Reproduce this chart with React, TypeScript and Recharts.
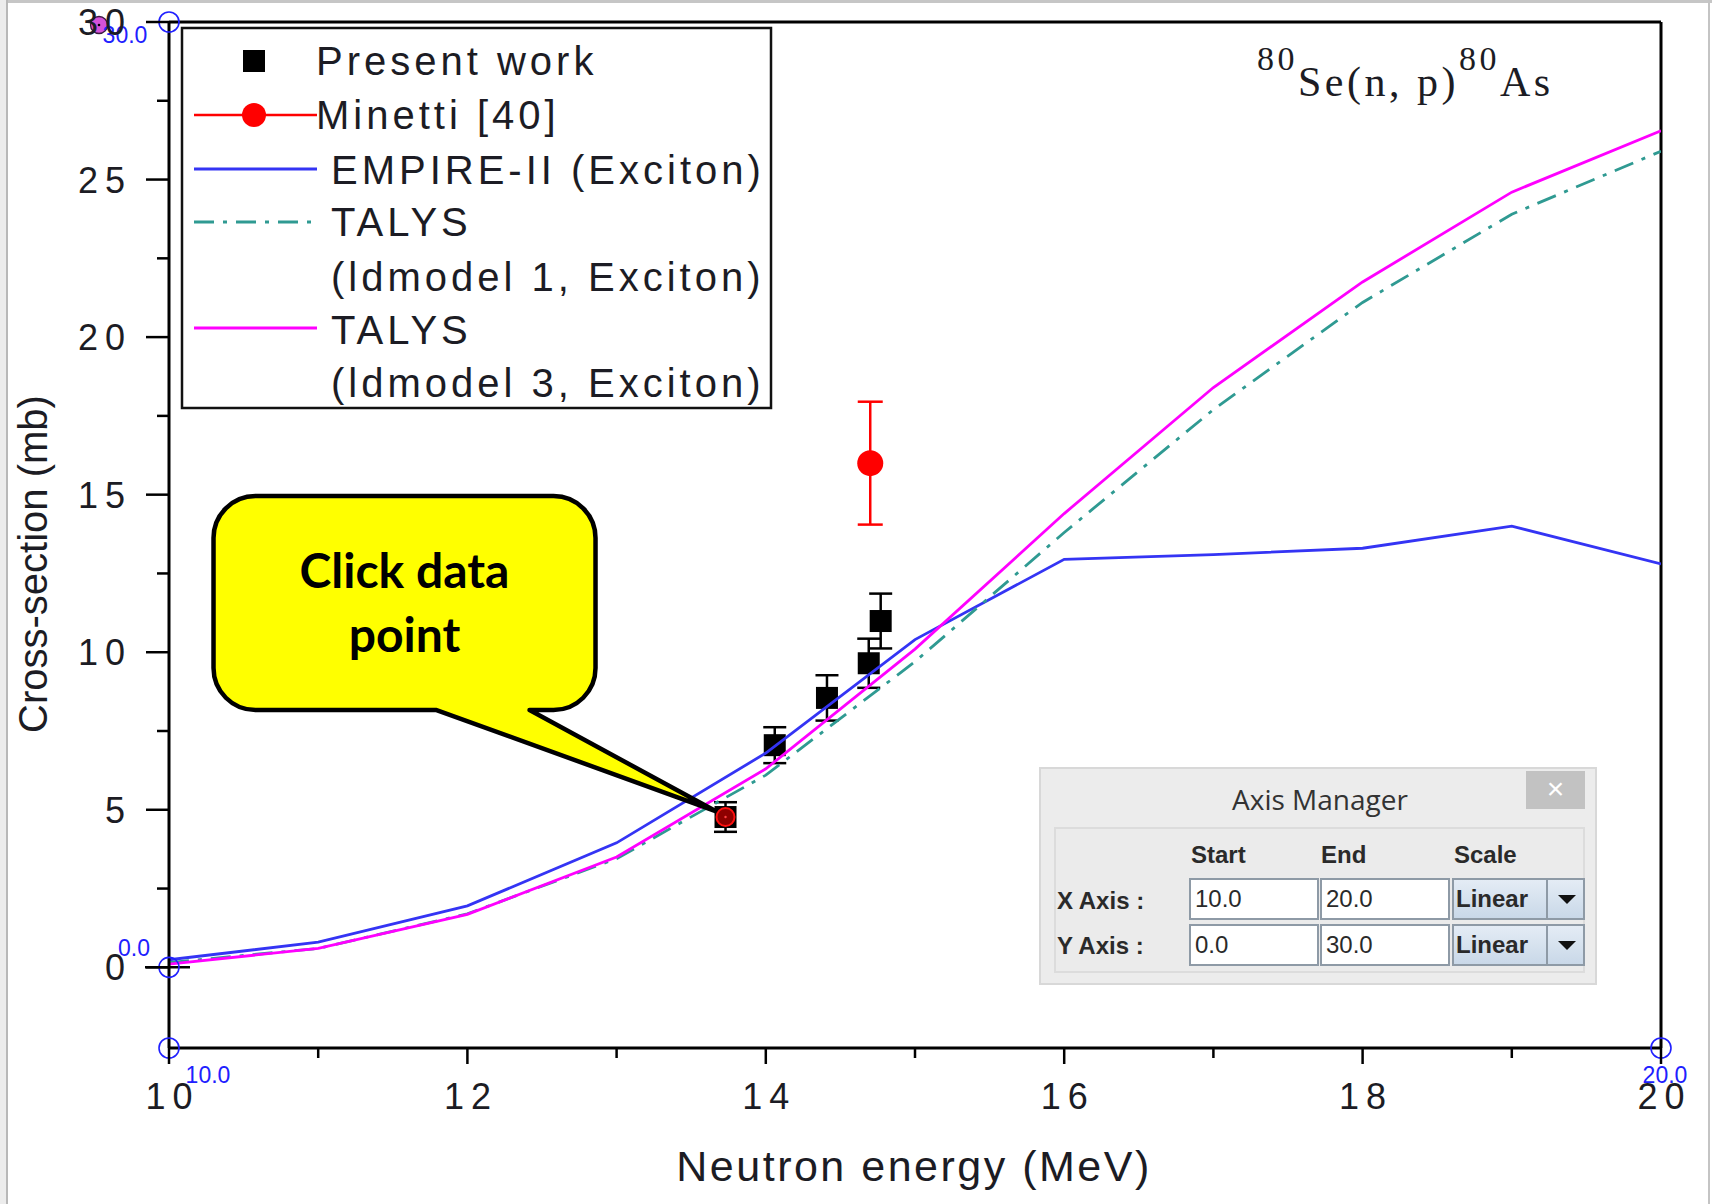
import React from "react";
import {
  ComposedChart,
  Line,
  Scatter,
  XAxis,
  YAxis,
  ErrorBar,
  ReferenceLine,
  ReferenceDot,
} from "recharts";

// model curves, sampled at integer neutron energies (MeV)
const energies = [10, 11, 12, 13, 14, 15, 16, 17, 18, 19, 20];
const empireII = [0.24, 0.8, 1.95, 3.95, 6.8, 10.4, 12.95, 13.1, 13.3, 14.0, 12.8];
const talysLd1 = [0.15, 0.6, 1.7, 3.45, 6.1, 9.7, 13.8, 17.7, 21.1, 23.9, 25.9];
const talysLd3 = [0.1, 0.6, 1.68, 3.5, 6.3, 10.1, 14.4, 18.4, 21.75, 24.6, 26.55];

// measurements
const presentEnergy = [13.73, 14.06, 14.41, 14.69, 14.77];
const presentSigma = [4.77, 7.05, 8.55, 9.65, 10.99];
const presentError = [0.47, 0.57, 0.72, 0.78, 0.87];

const minettiEnergy = [14.7];
const minettiSigma = [16.0];
const minettiError = [1.95];

// axes
const xTicks = [10, 11, 12, 13, 14, 15, 16, 17, 18, 19, 20];
const xLabelled = [10, 12, 14, 16, 18, 20];
const yTicks = [0, 2.5, 5, 7.5, 10, 12.5, 15, 17.5, 20, 22.5, 25, 27.5, 30];
const yLabelled = [0, 5, 10, 15, 20, 25, 30];
const xDomain = [10, 20];
const yDomain = [-2.56, 30];

// digitizer calibration markers (x, y, label)
const calX = [10, 10, 10, 20];
const calY = [30, 0, -2.56, -2.56];
const calLabels = ["30.0", "0.0", "10.0", "20.0"];

const toPoints = (xs: number[], ys: number[], errs?: number[]) =>
  xs.map((x, i) => ({ x, y: ys[i], err: errs ? errs[i] : 0 }));

const empireData = toPoints(energies, empireII);
const talys1Data = toPoints(energies, talysLd1);
const talys3Data = toPoints(energies, talysLd3);
const presentData = toPoints(presentEnergy, presentSigma, presentError);
const minettiData = toPoints(minettiEnergy, minettiSigma, minettiError);

const SANS = '"Liberation Sans", Arial, sans-serif';
const INK = "#1c1c24";
const BLUE = "#3434f4";
const TEAL = "#2f9a92";
const MAGENTA = "#ff00ff";
const RED = "#ff0000";
const CAL_BLUE = "#2020ff";

const YTick = (props: any) => {
  const { x, y, payload } = props;
  const major = yLabelled.includes(payload.value);
  return (
    <g>
      <line x1={x - (major ? 23 : 12)} x2={x} y1={y} y2={y} stroke="#000" strokeWidth={2.5} />
      {major && (
        <text
          x={x - 37}
          y={y}
          dy={13}
          textAnchor="end"
          fontFamily={SANS}
          fontSize={36}
          fill={INK}
          style={{ letterSpacing: 7 }}
        >
          {payload.value}
        </text>
      )}
    </g>
  );
};

const XTick = (props: any) => {
  const { x, y, payload } = props;
  const major = xLabelled.includes(payload.value);
  return (
    <g>
      <line x1={x} x2={x} y1={y} y2={y + (major ? 16 : 10)} stroke="#000" strokeWidth={2.5} />
      {major && (
        <text
          x={x + 3.5}
          y={y + 61}
          textAnchor="middle"
          fontFamily={SANS}
          fontSize={36}
          fill={INK}
          style={{ letterSpacing: 7 }}
        >
          {payload.value}
        </text>
      )}
    </g>
  );
};

const Square = (props: any) => {
  const { cx, cy } = props;
  return <rect x={cx - 11} y={cy - 11} width={22} height={22} fill="#000" />;
};

const RedDot = (props: any) => {
  const { cx, cy } = props;
  return <circle cx={cx} cy={cy} r={13} fill={RED} />;
};

// offsets of each calibration label from its marker
const calOffsets = [
  { lx: -44, ly: 13 },
  { lx: -35, ly: -19 },
  { lx: 39, ly: 27 },
  { lx: 4, ly: 27 },
];

const CalMark = (props: any) => {
  const { cx, cy, index } = props;
  const off = calOffsets[index];
  return (
    <g>
      {index === 1 && <line x1={cx - 24} x2={cx + 21} y1={cy} y2={cy} stroke="#000" strokeWidth={2.5} />}
      <circle cx={cx} cy={cy} r={10} fill="none" stroke={CAL_BLUE} strokeWidth={1.6} />
      {index === 0 && (
        <g>
          <circle cx={cx - 70} cy={cy + 3} r={8.5} fill="#d552d8" stroke="#3b1840" strokeWidth={1.3} />
          <circle cx={cx - 70} cy={cy + 3} r={1.3} fill="#000" />
        </g>
      )}
      <text
        x={cx + off.lx}
        y={cy + off.ly}
        dy={8}
        textAnchor="middle"
        fontFamily={SANS}
        fontSize={23}
        fill={CAL_BLUE}
      >
        {calLabels[index]}
      </text>
    </g>
  );
};

const Callout = (props: any) => {
  const { cx, cy } = props;
  const L = cx - 512, R = cx - 130, T = cy - 321, B = cy - 107, r = 42;
  const b1 = cx - 289, b2 = cx - 196, tx = cx - 10, ty = cy - 6;
  const d =
    `M${L + r},${T} H${R - r} A${r},${r} 0 0 1 ${R},${T + r} V${B - r} ` +
    `A${r},${r} 0 0 1 ${R - r},${B} H${b2} L${tx},${ty} L${b1},${B} H${L + r} ` +
    `A${r},${r} 0 0 1 ${L},${B - r} V${T + r} A${r},${r} 0 0 1 ${L + r},${T} Z`;
  const mid = (L + R) / 2;
  const f = { fontFamily: 'Lato, "Open Sans", sans-serif', fontWeight: 700, fontSize: 48, fill: "#000" };
  return (
    <g>
      <path d={d} fill="#ffff00" stroke="#000" strokeWidth={4.5} strokeLinejoin="round" />
      <text x={mid} y={cy - 229} textAnchor="middle" {...f}>Click data</text>
      <text x={mid} y={cy - 165} textAnchor="middle" {...f}>point</text>
    </g>
  );
};

const PickedMark = (props: any) => {
  const { cx, cy } = props;
  return (
    <g>
      <circle cx={cx} cy={cy} r={9} fill="#8e0000" stroke="#ff1010" strokeWidth={2} />
      <circle cx={cx} cy={cy} r={1.2} fill="#ff4040" />
    </g>
  );
};

const legendText = { fontFamily: SANS, fontSize: 40, fill: INK, style: { letterSpacing: 4 } };

const Overlay = () => (
  <svg
    width={1712}
    height={1204}
    style={{ position: "absolute", left: 0, top: 0, pointerEvents: "none" }}
  >
    {/* legend */}
    <g transform="translate(182,28)">
      <rect x={0} y={0} width={589} height={380} fill="#fff" stroke="#111" strokeWidth={2.5} />
      <rect x={61} y={22} width={22} height={22} fill="#000" />
      <text x={134} y={33} dy={14} {...legendText}>Present work</text>
      <line x1={12} x2={135} y1={87} y2={87} stroke={RED} strokeWidth={2.5} />
      <circle cx={72} cy={87} r={12} fill={RED} />
      <text x={134} y={87} dy={14} {...legendText}>Minetti [40]</text>
      <line x1={12} x2={135} y1={141} y2={141} stroke={BLUE} strokeWidth={2.8} />
      <text x={149} y={142} dy={14} {...legendText}>EMPIRE-II (Exciton)</text>
      <line x1={12} x2={135} y1={194} y2={194} stroke={TEAL} strokeWidth={2.8} strokeDasharray="20 9 4 9" />
      <text x={149} y={194} dy={14} {...legendText}>TALYS</text>
      <text x={149} y={249} dy={14} {...legendText}>(ldmodel 1, Exciton)</text>
      <line x1={12} x2={135} y1={300} y2={300} stroke={MAGENTA} strokeWidth={2.8} />
      <text x={149} y={302} dy={14} {...legendText}>TALYS</text>
      <text x={149} y={355} dy={14} {...legendText}>(ldmodel 3, Exciton)</text>
    </g>

    {/* reaction label */}
    <text x={1257} y={96} fontFamily='"Liberation Serif", "Times New Roman", serif' fill={INK} style={{ letterSpacing: 3.5 }}>
      <tspan fontSize={34} dy={-26}>80</tspan>
      <tspan fontSize={42} dy={26}>Se(n, p)</tspan>
      <tspan fontSize={34} dy={-26}>80</tspan>
      <tspan fontSize={42} dy={26}>As</tspan>
    </text>

    {/* axis titles */}
    <text x={914} y={1181} textAnchor="middle" fontFamily={SANS} fontSize={43} fill={INK} style={{ letterSpacing: 2.5 }}>
      Neutron energy (MeV)
    </text>
    <text
      x={47}
      y={564}
      transform="rotate(-90 47 564)"
      textAnchor="middle"
      fontFamily={SANS}
      fontSize={40}
      fill={INK}
      style={{ letterSpacing: 0 }}
    >
      Cross-section (mb)
    </text>
  </svg>
);

const dlgLabel: React.CSSProperties = {
  position: "absolute",
  fontFamily: SANS,
  fontWeight: 700,
  fontSize: 24,
  color: "#2a2a2a",
  lineHeight: "28px",
};

const boxStyle = (left: number, top: number, width: number): React.CSSProperties => ({
  position: "absolute",
  left,
  top,
  width,
  height: 42,
  boxSizing: "border-box",
  background: "#fff",
  border: "2px solid #8e9aa6",
  fontFamily: SANS,
  fontSize: 24,
  color: "#2a2a2a",
  lineHeight: "38px",
  paddingLeft: 4,
});

const comboStyle = (left: number, top: number): React.CSSProperties => ({
  position: "absolute",
  left,
  top,
  width: 133,
  height: 42,
  boxSizing: "border-box",
  border: "2px solid #8e9aa6",
  background: "linear-gradient(#e4ecf5, #c9d8e8)",
});

const Combo = ({ left, top }: { left: number; top: number }) => (
  <div style={comboStyle(left, top)}>
    <span style={{ ...dlgLabel, left: 2, top: 5 }}>Linear</span>
    <div style={{ position: "absolute", left: 92, top: 0, width: 2, height: 38, background: "#8e9aa6" }} />
    <div
      style={{
        position: "absolute",
        left: 104,
        top: 15,
        width: 0,
        height: 0,
        borderLeft: "9px solid transparent",
        borderRight: "9px solid transparent",
        borderTop: "9px solid #111",
      }}
    />
  </div>
);

// dialog of the digitizer, drawn over the plot
const AxisManager = () => (
  <div
    style={{
      position: "absolute",
      left: 1039,
      top: 767,
      width: 558,
      height: 218,
      boxSizing: "border-box",
      background: "#ececec",
      border: "2px solid #d8d8d8",
    }}
  >
    <div
      style={{
        position: "absolute",
        left: 0,
        top: 12,
        width: 558,
        textAlign: "center",
        fontFamily: '"Open Sans", "Noto Sans", sans-serif',
        fontSize: 28,
        color: "#333",
        lineHeight: "36px",
      }}
    >
      Axis Manager
    </div>
    <div
      style={{
        position: "absolute",
        left: 485,
        top: 2,
        width: 59,
        height: 38,
        background: "#c2c2c2",
        color: "#fff",
        fontFamily: SANS,
        fontSize: 30,
        textAlign: "center",
        lineHeight: "36px",
      }}
    >
      ×
    </div>
    <div
      style={{
        position: "absolute",
        left: 13,
        top: 58,
        width: 531,
        height: 146,
        boxSizing: "border-box",
        background: "#ebebeb",
        border: "2px solid #dcdcdc",
      }}
    />
    <span style={{ ...dlgLabel, left: 150, top: 72 }}>Start</span>
    <span style={{ ...dlgLabel, left: 280, top: 72 }}>End</span>
    <span style={{ ...dlgLabel, left: 413, top: 72 }}>Scale</span>
    <span style={{ ...dlgLabel, left: 16, top: 118 }}>X Axis :</span>
    <span style={{ ...dlgLabel, left: 16, top: 163 }}>Y Axis :</span>
    <div style={boxStyle(148, 109, 130)}>10.0</div>
    <div style={boxStyle(279, 109, 130)}>20.0</div>
    <div style={boxStyle(148, 155, 130)}>0.0</div>
    <div style={boxStyle(279, 155, 130)}>30.0</div>
    <Combo left={411} top={109} />
    <Combo left={411} top={155} />
  </div>
);

export default function App() {
  return (
    <div
      style={{
        position: "absolute",
        left: 0,
        top: 0,
        width: 1712,
        height: 1204,
        background: "#fff",
        overflow: "hidden",
      }}
    >
      <ComposedChart width={1712} height={1204} margin={{ top: 22, right: 51, bottom: 0, left: 0 }}>
        <XAxis
          dataKey="x"
          type="number"
          domain={xDomain}
          allowDataOverflow
          ticks={xTicks}
          interval={0}
          height={156}
          tickSize={0}
          tickMargin={0}
          tick={(p: any) => <XTick {...p} />}
          axisLine={{ stroke: "#000", strokeWidth: 3 }}
          tickLine={false}
        />
        <YAxis
          dataKey="y"
          type="number"
          domain={yDomain}
          allowDataOverflow
          ticks={yTicks}
          interval={0}
          width={169}
          tickSize={0}
          tickMargin={0}
          tick={(p: any) => <YTick {...p} />}
          axisLine={{ stroke: "#000", strokeWidth: 3 }}
          tickLine={false}
        />
        <ReferenceLine y={30} stroke="#000" strokeWidth={3} ifOverflow="visible" />
        <ReferenceLine x={20} stroke="#000" strokeWidth={3} ifOverflow="visible" />

        <Scatter data={presentData} name="Present work" shape={Square} zIndex={300} isAnimationActive={false}>
          <ErrorBar dataKey="err" direction="y" width={11.5} stroke="#000" strokeWidth={2.5} />
        </Scatter>

        <Line data={empireData} dataKey="y" name="EMPIRE-II (Exciton)" type="linear" stroke={BLUE} strokeWidth={2.8} dot={false} isAnimationActive={false} />
        <Line data={talys1Data} dataKey="y" name="TALYS (ldmodel 1, Exciton)" type="linear" stroke={TEAL} strokeWidth={2.8} strokeDasharray="20 9 4 9" dot={false} isAnimationActive={false} />
        <Line data={talys3Data} dataKey="y" name="TALYS (ldmodel 3, Exciton)" type="linear" stroke={MAGENTA} strokeWidth={2.8} dot={false} isAnimationActive={false} />

        <Scatter data={minettiData} name="Minetti [40]" shape={RedDot} isAnimationActive={false}>
          <ErrorBar dataKey="err" direction="y" width={12.5} stroke={RED} strokeWidth={2.5} />
        </Scatter>

        <ReferenceDot x={presentEnergy[0]} y={presentSigma[0]} ifOverflow="visible" shape={Callout} />
        <ReferenceDot x={presentEnergy[0]} y={presentSigma[0]} ifOverflow="visible" shape={PickedMark} />

        {calX.map((cx, i) => (
          <ReferenceDot
            key={calLabels[i]}
            x={cx}
            y={calY[i]}
            ifOverflow="visible"
            shape={(p: any) => <CalMark {...p} index={i} />}
          />
        ))}
      </ComposedChart>

      <Overlay />
      <AxisManager />

      {/* screenshot frame */}
      <div style={{ position: "absolute", left: 0, top: 0, width: 1712, height: 3, background: "#c6c6c6" }} />
      <div style={{ position: "absolute", left: 0, top: 0, width: 6, height: 1204, background: "#ececec" }} />
      <div style={{ position: "absolute", left: 6, top: 0, width: 2, height: 1204, background: "#b8b8b8" }} />
      <div style={{ position: "absolute", left: 1708, top: 0, width: 2, height: 1204, background: "#c4c4c4" }} />
    </div>
  );
}
